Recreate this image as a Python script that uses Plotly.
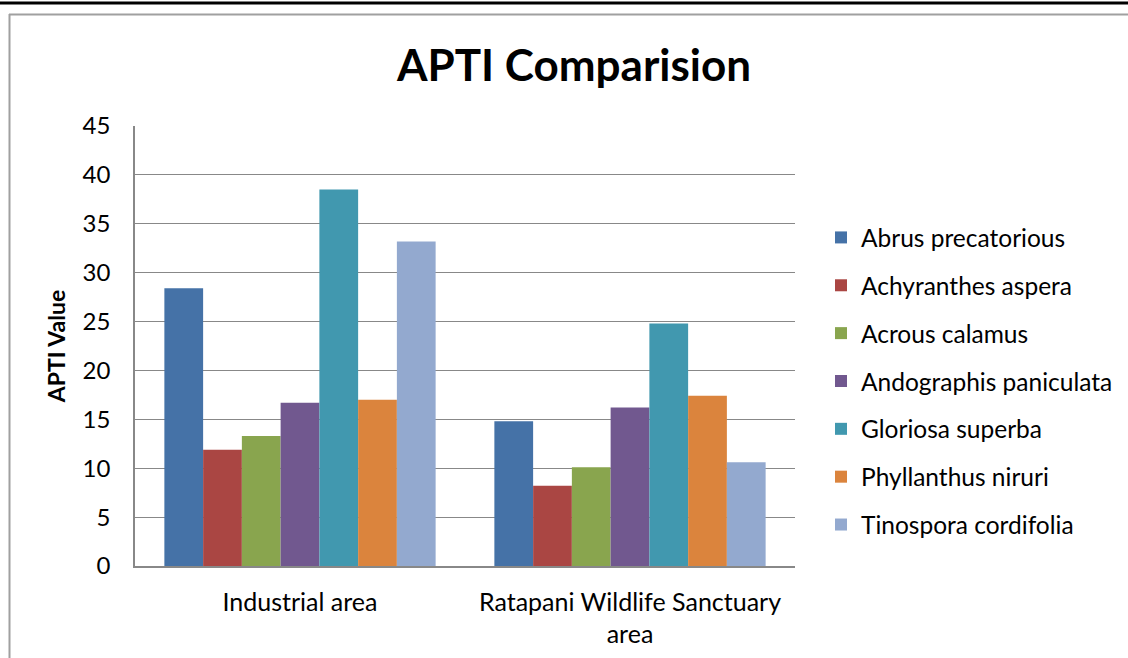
import plotly.graph_objects as go

categories = ["Industrial area", "Ratapani Wildlife Sanctuary<br>area"]
species = ["Abrus precatorious", "Achyranthes aspera", "Acrous calamus",
           "Andographis paniculata", "Gloriosa superba", "Phyllanthus niruri",
           "Tinospora cordifolia"]
industrial = [28.4, 11.9, 13.3, 16.7, 38.5, 17.0, 33.2]
ratapani = [14.8, 8.2, 10.1, 16.2, 24.8, 17.4, 10.6]
colors = ["#4572A7", "#AA4643", "#89A54E", "#71588F", "#4198AF", "#DB843D", "#93A9CF"]
y_ticks = [0, 5, 10, 15, 20, 25, 30, 35, 40, 45]

W, H = 1128, 658
L, R, T, B = 135, 333, 126, 92
pw, ph = W - L - R, H - T - B

def px_x(x):
    return (x - L) / pw

def px_y(y):
    return (H - B - y) / ph

FONT = "Lato"

fig = go.Figure()
for i, name in enumerate(species):
    fig.add_trace(go.Bar(
        x=categories, y=[industrial[i], ratapani[i]], name=name,
        marker=dict(color=colors[i], line=dict(width=0)),
        legendgroup=name,
    ))

fig.update_layout(
    width=W, height=H,
    margin=dict(l=L, r=R, t=T, b=B, autoexpand=False),
    paper_bgcolor="white", plot_bgcolor="white",
    barmode="group", bargap=0.178, bargroupgap=0,
    font=dict(family=FONT, color="black", size=24),
    title=dict(text="<b>APTI Comparision</b>", x=(574) / W, xanchor="center",
               y=1 - 66 / H, yanchor="middle",
               font=dict(family=FONT, size=44, color="black")),
    xaxis=dict(showline=True, linecolor="#888888", linewidth=1.5,
               showgrid=False, ticks="", tickfont=dict(size=25, family=FONT),
               ticklabelstandoff=13),
    yaxis=dict(range=[0, 45], tickvals=y_ticks, showgrid=True, gridcolor="#888888",
               gridwidth=1.4, showline=True, linecolor="#888888", linewidth=1.5,
               zeroline=False, ticks="", ticklabelstandoff=18,
               tickfont=dict(size=24, family=FONT),
               title=dict(text="<b>APTI Value</b>", font=dict(size=23, family=FONT),
                          standoff=11)),
    legend=dict(x=px_x(821), y=px_y(215), xanchor="left", yanchor="top",
                font=dict(size=24.5, family=FONT), tracegroupgap=13,
                bgcolor="rgba(0,0,0,0)", itemclick=False),
    showlegend=True,
)

shapes = [
    dict(type="line", xref="paper", yref="paper", x0=px_x(0), x1=px_x(W),
         y0=px_y(3), y1=px_y(3), line=dict(color="black", width=3)),
    dict(type="line", xref="paper", yref="paper", x0=px_x(9), x1=px_x(W + 5),
         y0=px_y(14.5), y1=px_y(14.5), line=dict(color="#a0a0a0", width=2)),
    dict(type="line", xref="paper", yref="paper", x0=px_x(9.5), x1=px_x(9.5),
         y0=px_y(14), y1=px_y(H + 5), line=dict(color="#a0a0a0", width=2)),
]
fig.update_layout(shapes=shapes)

fig.write_html("out.html")
